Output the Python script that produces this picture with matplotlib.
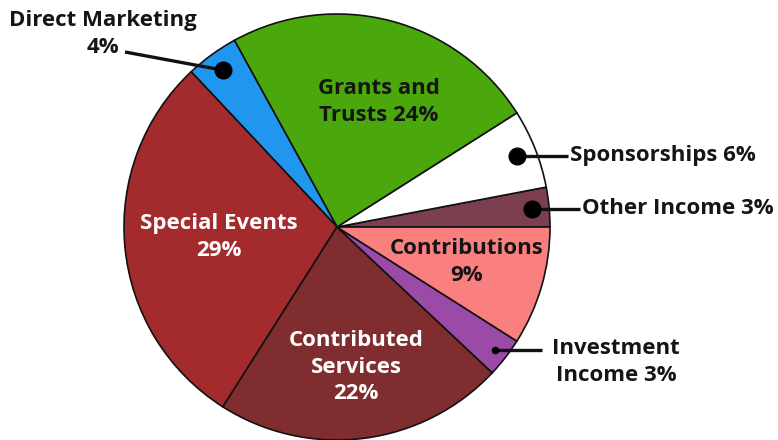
import matplotlib
matplotlib.use("Agg")
import matplotlib.pyplot as plt
import numpy as np

categories = ["Other Income", "Sponsorships", "Grants and Trusts", "Direct Marketing",
              "Special Events", "Contributed Services", "Investment Income", "Contributions"]
values = [3, 6, 24, 4, 29, 22, 3, 9]
colors = ["#7b3f50", "#ffffff", "#4aa80c", "#2196ee", "#a32a2d", "#802d2f", "#9b4aa8", "#fa8080"]

W, H = 778, 440
fig = plt.figure(figsize=(W / 100, H / 100), dpi=100)
ax = fig.add_axes([0, 0, 1, 1])

cx, cy, R = 337, H - 227, 213
wedges, _ = ax.pie(values, colors=colors, startangle=0, counterclock=True,
                   center=(cx, cy), radius=R, frame=True,
                   wedgeprops=dict(edgecolor="#111111", linewidth=1.2))
ax.set_xlim(0, W)
ax.set_ylim(0, H)
ax.axis("off")

FONT = ["Open Sans", "DejaVu Sans"]
FS = 16.0
DARK = "#151515"

def px(x, y):
    return x, H - y

def mid_point(i, frac):
    w = wedges[i]
    a = np.deg2rad((w.theta1 + w.theta2) / 2)
    return cx + frac * R * np.cos(a), cy + frac * R * np.sin(a)

def txt(x, y, s, color=DARK, ha="center"):
    ax.text(*px(x, y), s, ha=ha, va="center", fontsize=FS, fontweight="bold",
            color=color, family=FONT, linespacing=1.32)

# inside labels
txt(379, 102, "Grants and\nTrusts 24%")
txt(219, 237, "Special Events\n29%", color="white")
txt(356, 367, "Contributed\nServices\n22%", color="white")
txt(467, 262, "Contributions\n9%")

# callouts
def callout(i, frac, end_x, end_y, msize):
    dx, dy = mid_point(i, frac)
    ex = end_x
    ey = dy if end_y is None else H - end_y
    ax.plot([dx, ex], [dy, ey], color="#111111", lw=2.4, solid_capstyle="butt", zorder=5)
    ax.plot([dx], [dy], "o", color="#000000", markersize=msize, zorder=6)
    return H - dy

callout(3, 0.91, 125, 52, 12)
txt(103, 34, "Direct Marketing\n4%")

y = callout(1, 0.91, 568, None, 12)
txt(570, y, "Sponsorships 6%", ha="left")

y = callout(0, 0.92, 580, None, 12)
txt(582, y, "Other Income 3%", ha="left")

callout(6, 0.94, 542, None, 4.5)
txt(616, 362, "Investment\nIncome 3%")

fig.savefig("out.png", dpi=100)
